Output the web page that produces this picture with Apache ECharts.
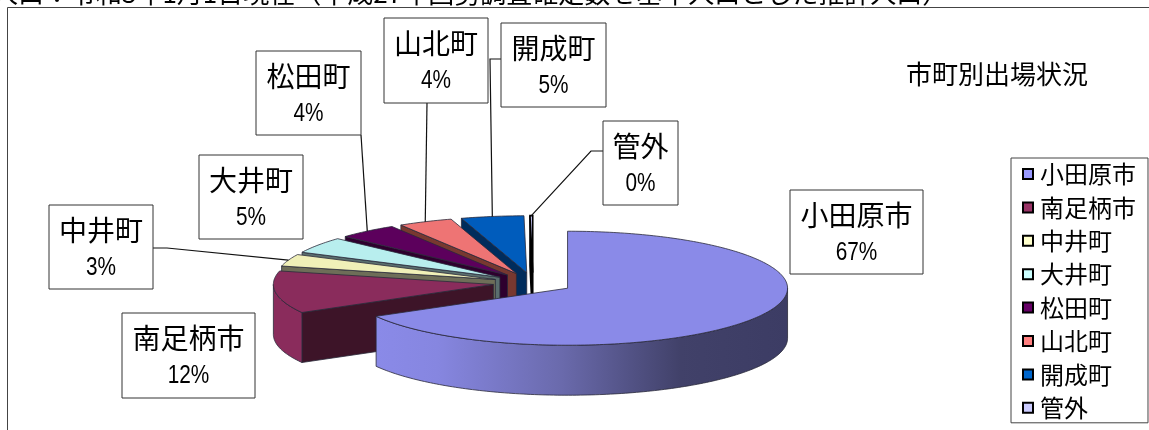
<!DOCTYPE html>
<html><head><meta charset="utf-8">
<style>html,body{margin:0;padding:0;background:#fff}#c{width:1149px;height:430px}</style>
<script src="https://cdn.jsdelivr.net/npm/echarts@6/dist/echarts.min.js"></script>
</head><body><div id="c"></div>
<script>
const categories = ['小田原市','南足柄市','中井町','大井町','松田町','山北町','開成町','管外'];
const values = [66.8,12.0,3.4,4.6,4.4,4.0,4.6,0.2];
const chartTitle = '市町別出場状況';
const noteText = '人口：令和3年1月1日現在（平成27年国勢調査確定数を基準人口とした推計人口）';

const legendColors = ['#9999FF','#993366','#FFFFCC','#CCFFFF','#660066','#FF8080','#0066CC','#CCCCFF'];
const topColors = ['#8a8ae8','#8a2c5c','#f0f0b8','#b8eeee','#5c005c','#ee7474','#005cbc','#c0c0f0'];
const wallColors = ['#3d3d66','#3d1428','#6e6e58','#5a6e6e','#2e002e','#783830','#002c5c','#000000'];

const FONT = '"Noto Sans CJK JP"';
const PIE = {cx:533, cy:283, rx:220, ry:57, depth:50, explode:40};

// label boxes [x0,y0,x1,y1, leader bend points from box towards slice]
const labelLayout = [
  {box:[790,190,923,274]},
  {box:[122,313,255,398]},
  {box:[49,205,153,289], leader:[[153,248],[167,248]]},
  {box:[199,155,303,239]},
  {box:[256,51,361,135], leader:[[361,135]]},
  {box:[384,18,488,103], leader:[[427,103]]},
  {box:[501,23,606,107], leader:[[501,59],[490,59]]},
  {box:[603,121,678,205], leader:[[603,151],[591,151]]}
];

const total = values.reduce((a,b)=>a+b,0);
const slices = [];
values.reduce((acc,v)=>{
  const a0 = acc/total*2*Math.PI, a1 = (acc+v)/total*2*Math.PI, m=(a0+a1)/2;
  slices.push({a0,a1,m,
    cx:PIE.cx+PIE.explode*Math.sin(m),
    cy:PIE.cy-PIE.explode*PIE.ry/PIE.rx*Math.cos(m)});
  return acc+v;
},0);
function rim(s,t,dy){return [s.cx+PIE.rx*Math.sin(t), s.cy-PIE.ry*Math.cos(t)+(dy||0)];}
function arc(s,a,b,dy){
  const n=Math.max(2,Math.ceil(Math.abs(b-a)/(Math.PI/180))), pts=[];
  for(let i=0;i<=n;i++) pts.push(rim(s,a+(b-a)*i/n,dy));
  return pts;
}
function renderSlice(idx){
  const s=slices[idx], children=[];
  const stroke = idx===7 ? {stroke:'#000',lineWidth:1.6} : {stroke:'#2a2a3a',lineWidth:0.8};
  const poly=(points,fill)=>children.push({type:'polygon',shape:{points},style:Object.assign({fill},stroke)});
  if(idx>0){
    const o=rim(s,s.a0);
    poly([[s.cx,s.cy],o,[o[0],o[1]+PIE.depth],[s.cx,s.cy+PIE.depth]],wallColors[idx]);
  }
  const w0=Math.max(s.a0,Math.PI/2), w1=Math.min(s.a1,Math.PI*1.5);
  if(w1>w0){
    const fill = idx===0 ? {type:'linear',x:rim(s,s.a1)[0],y:0,x2:s.cx+PIE.rx,y2:0,global:true,
      colorStops:[{offset:0,color:'#8a8ae8'},{offset:.15,color:'#8686e0'},{offset:.45,color:'#6a6aac'},{offset:.74,color:'#414169'},{offset:1,color:'#3c3c64'}]}
      : topColors[idx];
    poly(arc(s,w0,w1).concat(arc(s,w0,w1,PIE.depth).reverse()),fill);
  }
  poly([[s.cx,s.cy]].concat(arc(s,s.a0,s.a1)),topColors[idx]);
  return {type:'group',children};
}
function renderLabels(params){
  const i=params.dataIndex, L=labelLayout[i], s=slices[i], b=L.box, children=[];
  if(L.leader){
    children.push({type:'polyline',shape:{points:L.leader.concat([rim(s,s.m)])},style:{stroke:'#111',lineWidth:1.2,fill:'none'}});
  }
  const cx=(b[0]+b[2])/2;
  children.push({type:'rect',shape:{x:b[0],y:b[1],width:b[2]-b[0],height:b[3]-b[1]},style:{fill:'#fff',stroke:'#333',lineWidth:1}});
  children.push({type:'text',style:{text:categories[i],x:cx,y:b[1]+25,font:'28px '+FONT,fill:'#000',align:'center',verticalAlign:'middle'}});
  children.push({type:'text',x:cx,y:b[1]+63,scaleX:0.8,style:{text:Math.round(values[i]/total*100)+'%',x:0,y:0,font:'26px "Liberation Sans"',fill:'#000',align:'center',verticalAlign:'middle'}});
  return {type:'group',children};
}

const n = categories.length;
const series = categories.map((name,i)=>({
  type:'custom', name, coordinateSystem:'none', silent:true, animation:false,
  z: 2+(i===0 ? n : n-i),
  itemStyle:{color:legendColors[i]},
  data:[[values[i]]],
  renderItem:()=>renderSlice(i)
}));
series.push({
  type:'custom', name:'labels', coordinateSystem:'none', silent:true, animation:false, z:20,
  data:values.map(v=>[v]), renderItem:renderLabels
});

const chart = echarts.init(document.getElementById('c'),null,{renderer:'canvas'});
chart.setOption({
  animation:false, backgroundColor:'#fff',
  title:[
    {text:chartTitle,left:906,top:60,padding:0,textStyle:{fontFamily:FONT,fontSize:26,fontWeight:'normal',color:'#000',lineHeight:28}},
    {text:noteText,left:-8,top:-21,padding:0,textStyle:{fontFamily:FONT,fontSize:26,fontWeight:'normal',color:'#000',lineHeight:28}}
  ],
  graphic:[{type:'rect',z:0,shape:{x:7.5,y:7.5,width:1300,height:600},style:{fill:'none',stroke:'#444',lineWidth:1}}],
  legend:{
    orient:'vertical', left:1011, top:158, selectedMode:false,
    padding:[4,12,3,11], itemGap:9.4, itemWidth:10, itemHeight:10,
    backgroundColor:'#fff', borderColor:'#444', borderWidth:1, z:30,
    textStyle:{fontFamily:FONT,fontSize:24,color:'#000',lineHeight:24,padding:[0,0,0,2]},
    data:categories.map((name,i)=>({name,icon:'rect',itemStyle:{color:legendColors[i],borderColor:'#000',borderWidth:2}}))
  },
  series
});
</script></body></html>
